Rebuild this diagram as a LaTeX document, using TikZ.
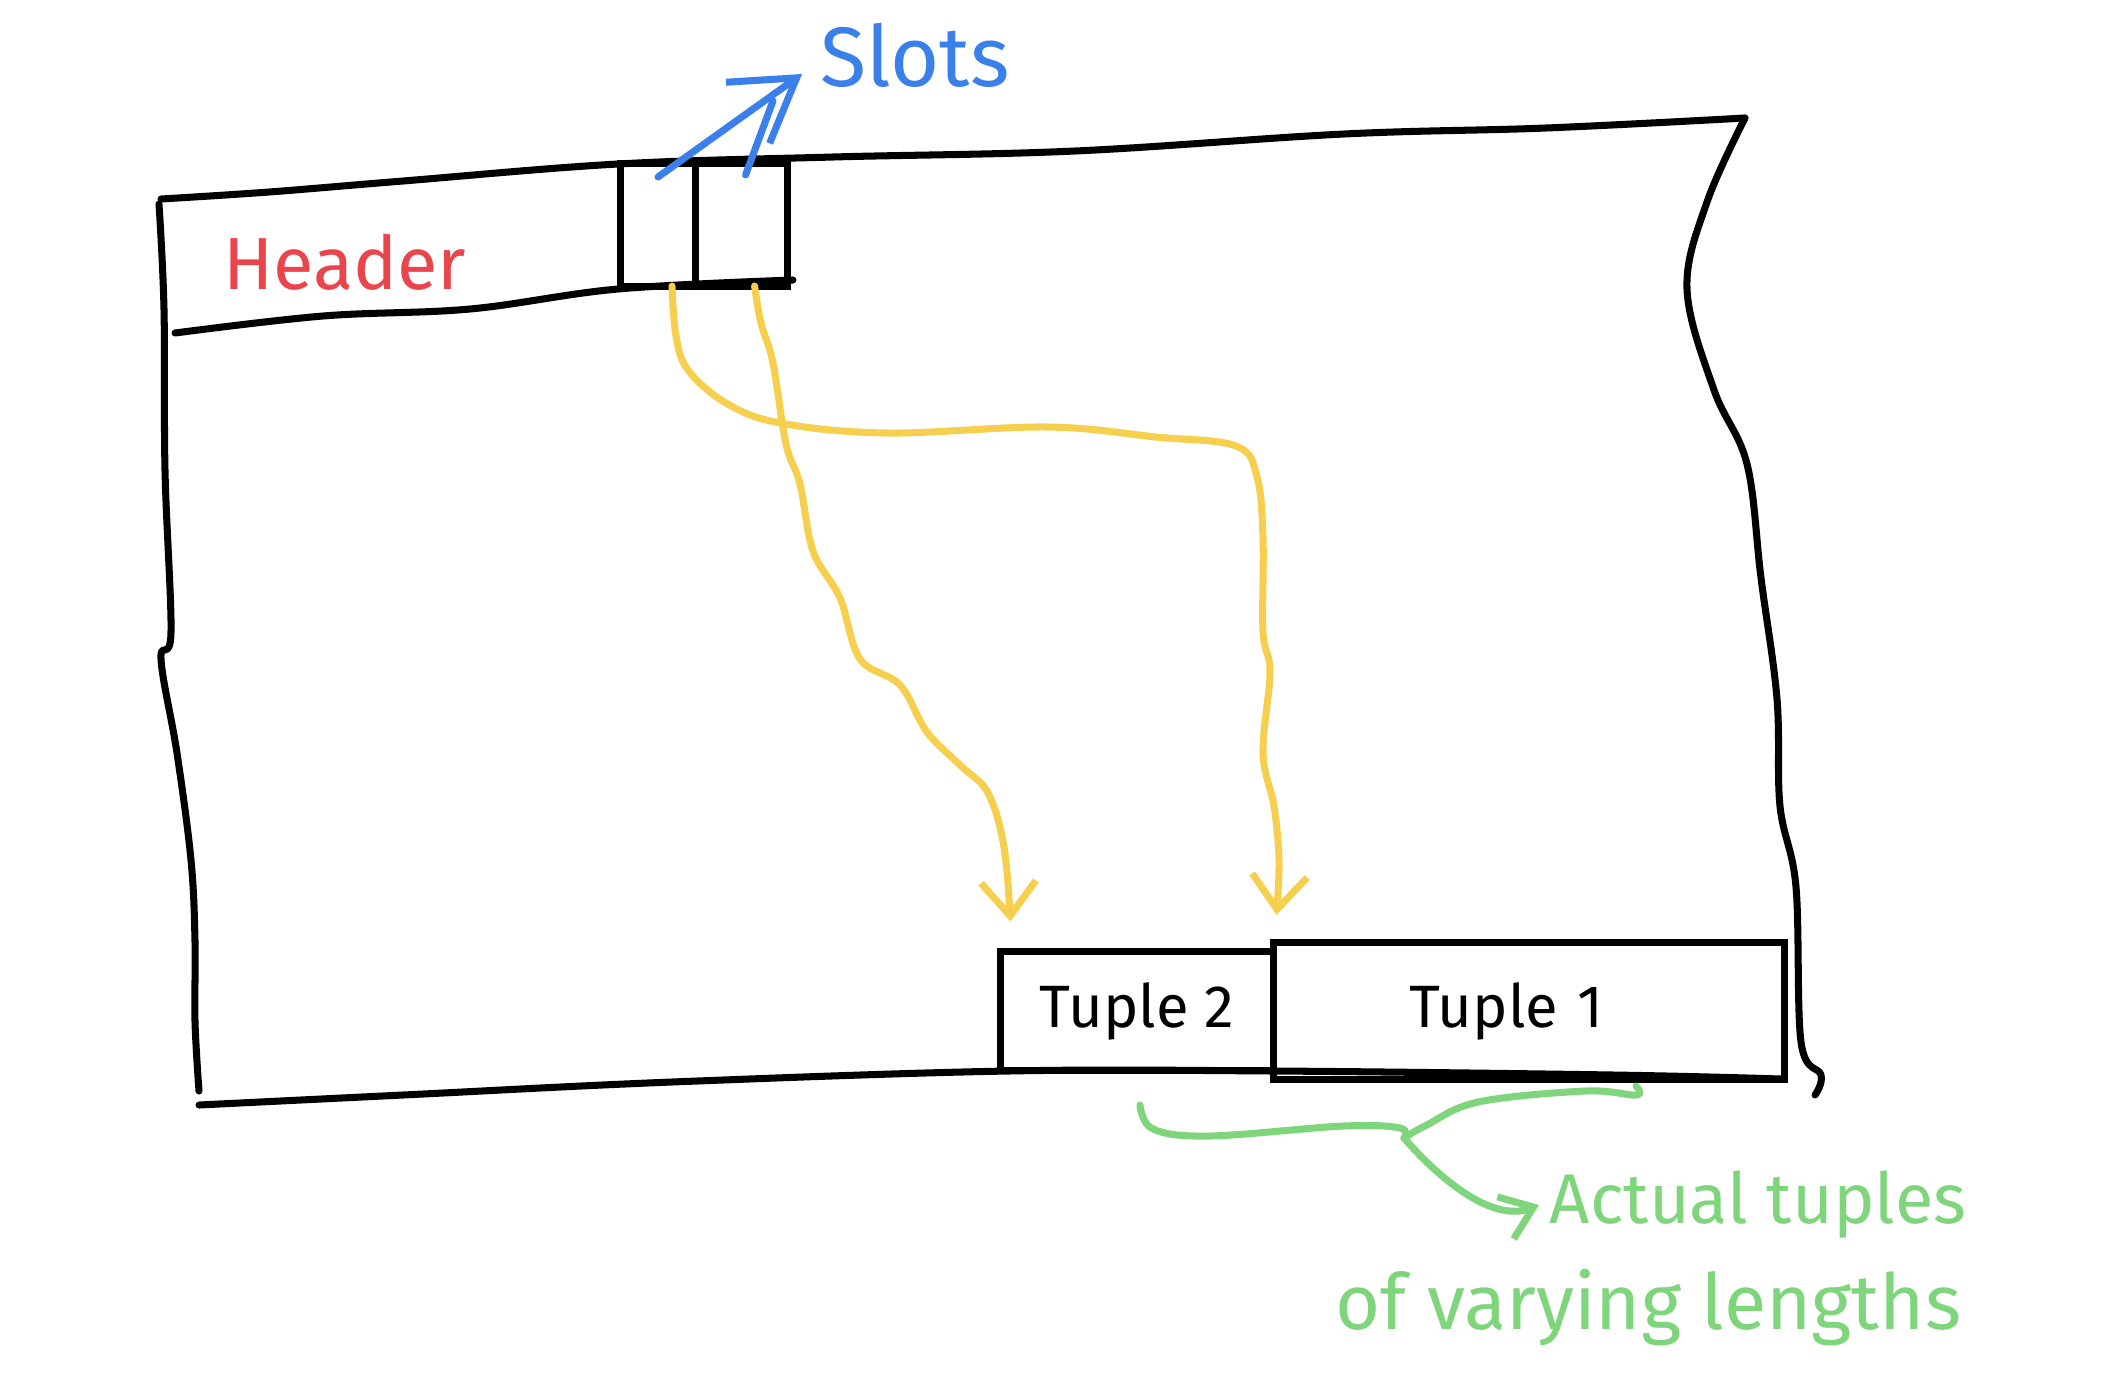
\documentclass[tikz,border=0pt]{standalone}
\usepackage{fontspec}
\setmainfont{Fira Sans}
\usetikzlibrary{arrows.meta,positioning}
\definecolor{HeaderRed}{HTML}{E8454D}
\definecolor{SlotBlue}{HTML}{3B80EA}
\definecolor{PtrYellow}{HTML}{F6CF4E}
\definecolor{NoteGreen}{HTML}{7FD57B}
\tikzset{
  borde/.style    = {line width=2pt, line cap=round, line join=round},
  ranura/.style   = {draw, line width=2pt, minimum height=1.22cm,
                     inner sep=0pt, outer sep=0pt},
  tupla/.style    = {draw, line width=2pt, inner sep=0pt, outer sep=0pt,
                     font=\fontsize{17}{20}\selectfont},
  puntero/.style  = {PtrYellow, line width=2pt, line cap=round,
                     -{Straight Barb[length=3.4mm,width=5.5mm]}},
  flechaaz/.style = {SlotBlue, line width=2pt, line cap=round},
  llave/.style    = {NoteGreen, line width=2pt, line cap=round},
  nota/.style     = {text=NoteGreen, font=\fontsize{20}{24}\selectfont, inner sep=0pt},
}

\begin{document}
\begin{tikzpicture}[x=0.01cm, y=-0.01cm]
  \useasboundingbox (0,0) rectangle (2108,1384);
  \draw[borde] plot[smooth, tension=0.6] coordinates {(161,199) (269,192) (403,181) (618,164) (833,157) (1075,151) (1344,134) (1546,128) (1745,118)};
  \draw[borde] plot[smooth, tension=0.6] coordinates {(1745,118) (1707,202) (1687,289) (1714,390) (1747,464) (1761,578) (1777,699) (1780,806) (1796,887) (1801,1042) (1821,1075) (1815,1095)};
  \draw[borde] plot[smooth, tension=0.6] coordinates {(199,1105) (403,1095) (672,1082) (1008,1071) (1274,1071) (1613,1075) (1781,1079)};
  \draw[borde] plot[smooth, tension=0.6] coordinates {(159,204) (164,309) (165,470) (171,632) (161,659) (177,753) (191,860) (195,941) (195,1021) (199,1091)};
  \draw[borde] plot[smooth, tension=0.6] coordinates {(175,333) (323,316) (470,309) (618,289) (793,280)};

  \node[text=HeaderRed, font=\fontsize{21}{25}\selectfont] (header) at (345,262) {Header};
  \node[ranura, minimum width=7.5mm] (slot1) at (658,225) {};
  \node[ranura, minimum width=9.2mm, right=0pt of slot1] (slot2) {};
  \node[text=SlotBlue, font=\fontsize{24}{28}\selectfont] (slots) at (915,55) {Slots};

  \node[tupla, minimum width=2.73cm, minimum height=1.19cm] (tuple2) at (1137,1011) {Tuple 2};
  \node[tupla, minimum width=5.11cm, minimum height=1.36cm, right=0pt of tuple2,
        text width=4.6cm, align=left] (tuple1) {\hspace*{1.1cm}Tuple 1};

  \node[nota] (note1) at (1758,1205) {Actual tuples};
  \node[nota, anchor=east, font=\fontsize{22}{26}\selectfont] (note2) at (1962,1308) {of varying lengths};

  \coordinate (slotstip) at (802,74);
  \coordinate (slotsjoin) at (773,101);
  \draw[flechaaz, -{Straight Barb[length=6mm,width=7.5mm]}] ([yshift=-1.3mm]slot1.north) -- (slotstip);
  \draw[flechaaz] ([xshift=0.4mm,yshift=-1.1mm]slot2.north) -- (slotsjoin);

  \draw[puntero] plot[smooth, tension=0.6] coordinates {([xshift=1.4mm]slot1.south) (676,336) (688,370) (726,403) (780,423) (887,433) (1048,427) (1156,437) (1236,446) (1257,477) (1263,538) (1263,632) (1270,672) (1263,753) (1274,806) (1279,860) ([xshift=0.3mm,yshift=2.8mm]tuple1.north west)};
  \draw[puntero] plot[smooth, tension=0.6] coordinates {([xshift=1.3mm]slot2.south) (761,323) (773,363) (786,444) (800,484) (813,551) (840,598) (860,659) (900,685) (927,732) (961,766) (988,793) (1004,847) ([xshift=1mm,yshift=3mm]tuple2.north west)};

  \coordinate (bracetip) at (1404,1138);
  \draw[llave] plot[smooth, tension=0.6] coordinates {(1140,1105) (1153,1129) (1210,1136) (1344,1126) (1400,1128) (bracetip)};
  \draw[llave] plot[smooth, tension=0.6] coordinates {(bracetip) (1425,1126) (1478,1102) (1586,1091) (1636,1095) (1636,1086)};
  \draw[llave, -{Straight Barb[length=3mm,width=4.5mm]}] (bracetip) .. controls (1445,1185) and (1495,1222) .. ([xshift=-1mm]note1.west);
\end{tikzpicture}
\end{document}
